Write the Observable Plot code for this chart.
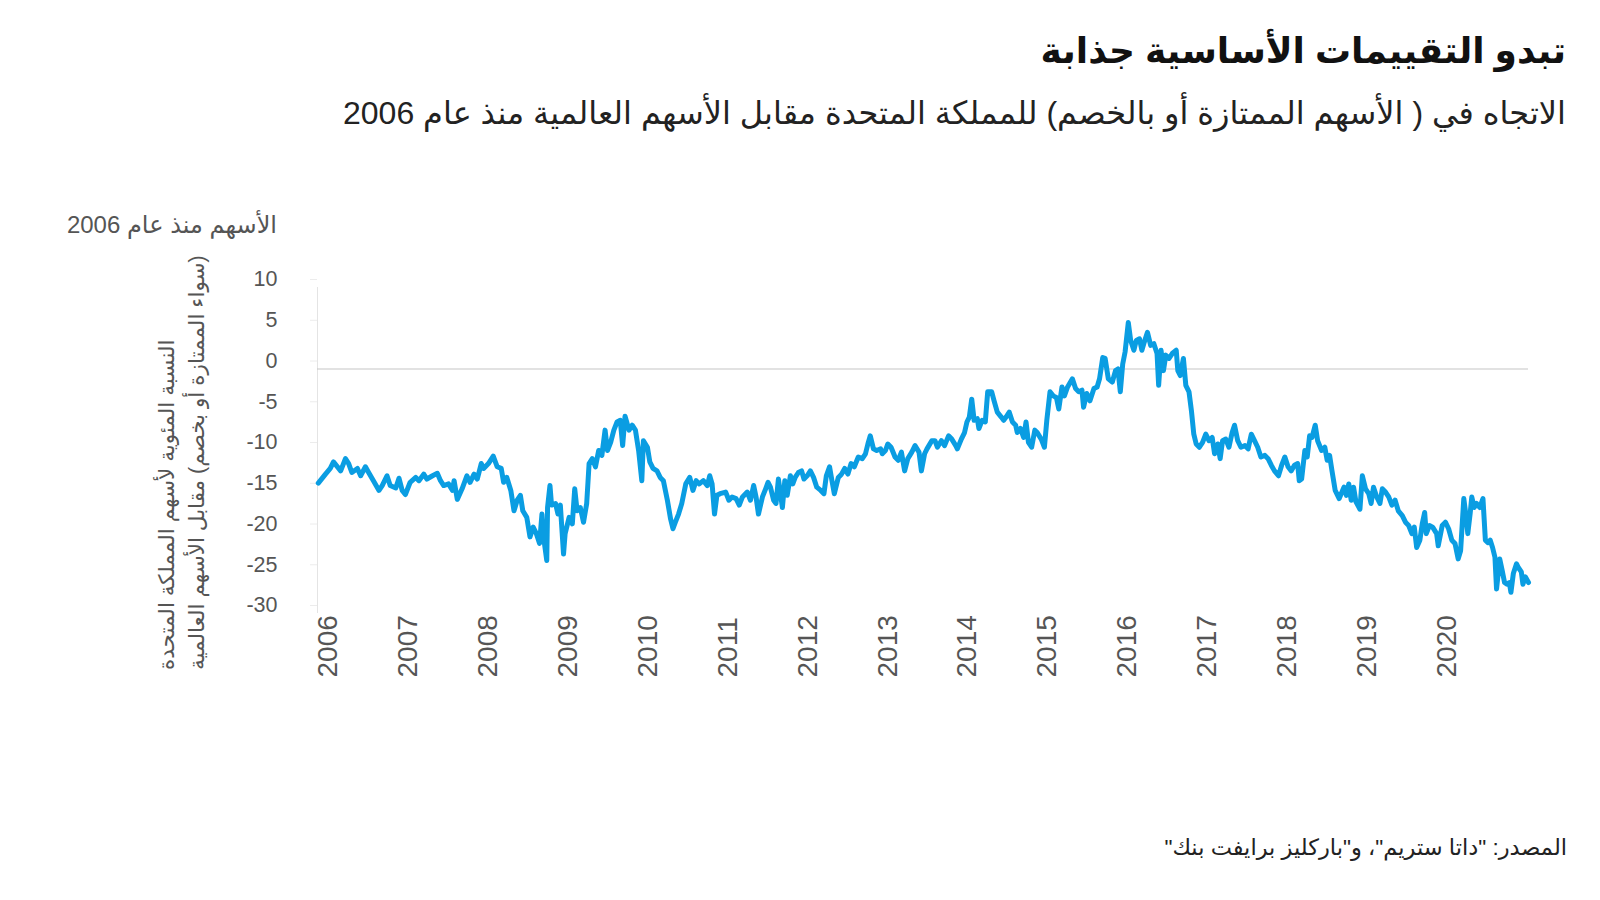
<!DOCTYPE html>
<html lang="ar">
<head>
<meta charset="utf-8">
<script src="https://cdn.jsdelivr.net/npm/d3@7"></script>
<script src="https://cdn.jsdelivr.net/npm/@observablehq/plot@0.6"></script>
<style>
  html, body { margin: 0; padding: 0; background: #fff; }
  body { width: 1600px; height: 900px; position: relative; overflow: hidden;
         font-family: "Liberation Sans", "DejaVu Sans", sans-serif; }
  #chart { position: absolute; left: 0; top: 0; }
  .txt { position: absolute; direction: rtl; white-space: nowrap; }
  #title { right: 34px; top: 25px; font-size: 36px; font-weight: bold; color: #111; line-height: 52px; }
  #subtitle { right: 34px; top: 91px; font-size: 32px; color: #222; line-height: 44px; }
  #ytitle { right: 1323px; top: 210px; font-size: 24px; color: #555; line-height: 30px; }
  #yrot { left: -28px; top: 430px; width: 420px; height: 60px; font-size: 21.5px; color: #555;
          line-height: 30px; text-align: left; transform: rotate(-90deg); transform-origin: 50% 50%; }
  #source { right: 33px; top: 833px; font-size: 22.5px; color: #222; line-height: 30px; }
</style>
</head>
<body>
<div id="chart"></div>
<div class="txt" id="title"></div>
<div class="txt" id="subtitle"></div>
<div class="txt" id="ytitle"></div>
<div class="txt" id="yrot"></div>
<div class="txt" id="source"></div>
<script>
const titleText = "تبدو التقييمات الأساسية جذابة";
const subtitleText = "الاتجاه في ( الأسهم الممتازة أو بالخصم) للمملكة المتحدة مقابل الأسهم العالمية منذ عام 2006";
const yTitleText = "الأسهم منذ عام 2006";
const yLabelLines = ["النسبة المئوية لأسهم المملكة المتحدة", "(سواء الممتازة أو بخصم) مقابل الأسهم العالمية"];
const sourceText = "المصدر: \"داتا ستريم\"، و\"باركليز برايفت بنك\"";

const xTicks = [2006, 2007, 2008, 2009, 2010, 2011, 2012, 2013, 2014, 2015, 2016, 2017, 2018, 2019, 2020];
const yTicks = [10, 5, 0, -5, -10, -15, -20, -25, -30];

// time in decimal years
const dates = [
2006.01,2006.10,2006.16,2006.20,2006.25,2006.29,2006.35,2006.39,2006.43,2006.50,2006.54,2006.60,2006.64,2006.70,2006.77,2006.81,2006.87,2006.91,2006.98,
2007.02,2007.06,2007.10,2007.16,2007.23,2007.27,2007.33,2007.37,2007.44,2007.50,2007.54,2007.58,2007.64,2007.69,2007.71,2007.75,2007.81,2007.87,2007.91,2007.96,
2008.00,2008.05,2008.08,2008.14,2008.20,2008.25,2008.30,2008.33,2008.37,2008.42,2008.46,2008.50,2008.54,2008.57,2008.62,2008.66,2008.70,2008.74,2008.78,2008.81,2008.83,2008.87,2008.88,2008.91,2008.93,2008.98,
2009.01,2009.04,2009.08,2009.10,2009.15,2009.19,2009.22,2009.25,2009.29,2009.33,2009.37,2009.40,2009.44,2009.48,2009.52,2009.56,2009.60,2009.63,2009.67,2009.71,2009.75,2009.79,2009.82,2009.85,2009.90,2009.94,2009.98,
2010.02,2010.06,2010.08,2010.13,2010.16,2010.20,2010.25,2010.29,2010.33,2010.38,2010.42,2010.45,2010.48,2010.52,2010.56,2010.61,2010.66,2010.70,2010.74,2010.78,2010.83,2010.88,2010.91,2010.94,2010.97,
2011.00,2011.04,2011.11,2011.15,2011.19,2011.24,2011.28,2011.32,2011.38,2011.42,2011.46,2011.49,2011.52,2011.57,2011.61,2011.64,2011.67,2011.71,2011.74,2011.77,2011.82,2011.85,2011.88,2011.92,2011.95,2011.98,
2012.02,2012.06,2012.09,2012.13,2012.17,2012.21,2012.25,2012.30,2012.34,2012.37,2012.41,2012.44,2012.47,2012.52,2012.56,2012.60,2012.64,2012.68,2012.72,2012.77,2012.82,2012.86,2012.89,2012.92,2012.96,
2013.00,2013.05,2013.07,2013.11,2013.14,2013.18,2013.23,2013.27,2013.31,2013.35,2013.39,2013.44,2013.48,2013.53,2013.56,2013.60,2013.63,2013.69,2013.73,2013.76,2013.81,2013.85,2013.90,2013.94,2013.99,
2014.01,2014.06,2014.10,2014.13,2014.16,2014.19,2014.22,2014.26,2014.28,2014.32,2014.36,2014.39,2014.44,2014.47,2014.51,2014.56,2014.59,2014.62,2014.66,2014.70,2014.74,2014.76,2014.80,2014.84,2014.87,2014.90,2014.94,2014.98,
2015.01,2015.06,2015.10,2015.13,2015.17,2015.21,2015.25,2015.28,2015.32,2015.35,2015.39,2015.45,2015.49,2015.53,2015.57,2015.59,2015.63,2015.67,2015.72,2015.76,2015.79,2015.83,2015.86,2015.90,2015.95,2015.99,
2016.02,2016.05,2016.08,2016.11,2016.15,2016.18,2016.22,2016.25,2016.29,2016.32,2016.35,2016.39,2016.43,2016.47,2016.51,2016.53,2016.56,2016.59,2016.62,2016.66,2016.70,2016.75,2016.77,2016.80,2016.84,2016.87,2016.91,2016.94,2016.97,
2017.00,2017.04,2017.08,2017.12,2017.16,2017.20,2017.23,2017.27,2017.30,2017.33,2017.37,2017.41,2017.45,2017.48,2017.52,2017.56,2017.61,2017.65,2017.69,2017.73,2017.77,2017.81,2017.86,2017.90,2017.94,2017.98,
2018.03,2018.07,2018.11,2018.15,2018.19,2018.23,2018.27,2018.29,2018.32,2018.36,2018.39,2018.42,2018.45,2018.49,2018.52,2018.57,2018.61,2018.64,2018.67,2018.70,2018.74,2018.79,2018.85,2018.88,2018.91,2018.94,2018.97,
2019.00,2019.05,2019.08,2019.12,2019.16,2019.19,2019.22,2019.26,2019.30,2019.33,2019.37,2019.41,2019.45,2019.49,2019.53,2019.58,2019.62,2019.66,2019.70,2019.73,2019.76,2019.80,2019.83,2019.86,2019.88,2019.92,2019.96,
2020.01,2020.03,2020.08,2020.12,2020.16,2020.20,2020.24,2020.28,2020.31,2020.35,2020.38,2020.40,2020.43,2020.45,2020.48,2020.51,2020.55,2020.59,2020.62,2020.65,2020.68,2020.71,2020.74,2020.76,2020.80,2020.83,2020.86,2020.89,2020.92,2020.94,2020.97,
2021.01,2021.03,2021.07,2021.09,2021.12,2021.16
];

// UK equities premium (+) / discount (-) vs world equities, %
const relValue = [
-14.0,-12.9,-12.2,-11.4,-12.0,-12.5,-11.0,-11.6,-12.7,-12.2,-13.1,-12.0,-12.7,-13.7,-14.9,-14.3,-13.1,-14.3,-14.6,
-13.4,-14.9,-15.4,-13.9,-13.3,-13.7,-12.9,-13.5,-13.1,-12.8,-13.7,-14.3,-14.1,-14.9,-13.7,-16.0,-14.7,-13.1,-13.9,-12.9,
-13.5,-11.6,-12.2,-11.6,-10.7,-12.0,-12.2,-13.9,-13.3,-14.9,-17.4,-16.1,-15.5,-17.4,-18.2,-20.6,-19.4,-20.2,-21.4,-17.8,-20.6,-23.5,-17.0,-14.3,-16.7,-16.5,
-17.8,-16.7,-22.7,-20.2,-18.2,-19.0,-14.7,-17.4,-17.0,-18.8,-16.5,-11.6,-11.0,-12.0,-10.0,-10.6,-7.5,-10.0,-9.0,-7.5,-6.5,-6.3,-9.4,-5.8,-7.5,-6.9,-7.5,
-10.0,-13.7,-8.8,-9.6,-11.4,-12.2,-12.5,-13.3,-13.7,-16.1,-18.4,-19.6,-18.8,-17.8,-16.5,-14.1,-13.3,-14.9,-13.7,-14.1,-13.7,-14.3,-13.1,-14.1,-17.8,
-15.5,-15.3,-15.1,-16.1,-15.7,-15.9,-16.7,-15.7,-15.1,-16.1,-14.3,-15.7,-17.8,-15.7,-14.7,-13.9,-14.5,-16.1,-16.5,-13.5,-17.0,-13.7,-15.5,-13.1,-14.1,-13.3,
-12.7,-12.5,-13.5,-13.1,-12.5,-13.3,-14.5,-14.9,-15.3,-13.1,-12.0,-13.7,-15.3,-13.3,-12.9,-12.2,-12.9,-11.6,-12.0,-10.8,-11.0,-10.4,-9.2,-8.2,-9.8,
-10.0,-9.8,-10.4,-10.0,-9.2,-9.6,-10.8,-11.2,-10.2,-12.5,-11.0,-10.2,-9.4,-10.2,-12.5,-10.4,-9.8,-8.8,-8.8,-9.6,-8.8,-9.4,-8.2,-8.6,-9.4,
-9.8,-8.6,-7.8,-6.5,-5.9,-3.7,-6.3,-6.1,-7.3,-6.3,-6.5,-2.8,-2.8,-3.9,-5.3,-5.9,-6.3,-5.9,-5.3,-6.5,-6.9,-7.8,-7.3,-8.4,-6.5,-9.0,-9.6,-7.5,
-7.8,-8.6,-9.6,-6.3,-2.8,-3.3,-3.5,-4.9,-2.2,-3.3,-2.2,-1.2,-2.4,-2.8,-2.6,-4.7,-3.0,-3.9,-2.4,-2.2,-1.2,1.4,1.3,-1.2,-1.6,-0.2,
0.0,-2.8,0.6,2.1,5.7,3.5,2.3,3.5,3.7,2.3,3.3,4.5,2.9,3.1,1.9,-2.0,2.3,-0.2,1.7,1.3,1.9,2.3,-0.2,-0.8,1.3,-2.0,-2.8,-5.1,-8.0,
-9.2,-9.6,-9.0,-8.0,-8.8,-8.4,-10.4,-9.2,-11.0,-8.8,-8.6,-9.6,-7.8,-6.9,-8.8,-9.6,-9.4,-9.8,-8.0,-8.8,-9.6,-10.8,-10.6,-11.0,-11.8,-12.5,
-13.1,-11.8,-10.8,-12.0,-12.5,-11.8,-11.6,-13.7,-13.5,-10.0,-10.8,-8.2,-8.4,-6.9,-8.8,-10.0,-9.6,-11.2,-10.6,-12.5,-14.9,-15.9,-14.5,-15.5,-14.1,-16.1,-14.5,
-16.3,-17.2,-13.1,-14.7,-15.3,-16.5,-14.5,-15.7,-16.5,-14.7,-15.1,-15.7,-16.7,-16.1,-17.4,-18.0,-18.8,-19.2,-20.2,-19.4,-21.9,-21.0,-19.0,-17.6,-20.2,-19.2,-19.4,
-20.2,-21.7,-19.2,-18.8,-19.6,-21.0,-21.4,-23.3,-22.3,-15.9,-18.2,-20.2,-17.7,-15.7,-17.0,-16.5,-17.0,-15.9,-21.0,-21.3,-21.0,-21.9,-23.1,-27.0,-23.3,-24.7,-26.2,-26.4,-26.2,-27.4,-25.1,
-23.9,-24.3,-24.9,-26.4,-25.5,-26.2
];

document.getElementById("title").textContent = titleText;
document.getElementById("subtitle").textContent = subtitleText;
document.getElementById("ytitle").textContent = yTitleText;
document.getElementById("yrot").innerHTML = yLabelLines.join("<br>");
document.getElementById("source").textContent = sourceText;

const data = dates.map((t, i) => ({t, v: relValue[i]}));

const chart = Plot.plot({
  width: 1600,
  height: 900,
  marginLeft: 317,
  marginRight: 72,
  marginTop: 287,
  marginBottom: 287,
  x: {type: "linear", domain: [2006, 2021.16]},
  y: {domain: [-30, 10]},
  style: {fontFamily: "'Liberation Sans', Arial, sans-serif", background: "transparent", overflow: "visible"},
  marks: [
    Plot.ruleX([2006], {y1: -30, y2: 10, stroke: "#e4e4e4", strokeWidth: 1}),
    Plot.ruleY([0], {stroke: "#c6c6c6", strokeWidth: 1.2}),
    Plot.axisY({ticks: yTicks, tickFormat: d => String(d), tickSize: 7, tickPadding: 33, stroke: "#ececec", fill: "#555", fontSize: 21.5, dy: -8, label: null}),
    Plot.axisX({ticks: xTicks, tickFormat: d => String(d), tickSize: 0, tickPadding: 64, tickRotate: -90,
                textAnchor: "start", lineAnchor: "top", fontSize: 28, fill: "#555", label: null}),
    Plot.line(data, {x: "t", y: "v", stroke: "#0a9de2", strokeWidth: 5, strokeLinejoin: "round", strokeLinecap: "round"})
  ]
});
document.getElementById("chart").appendChild(chart);
</script>
</body>
</html>
